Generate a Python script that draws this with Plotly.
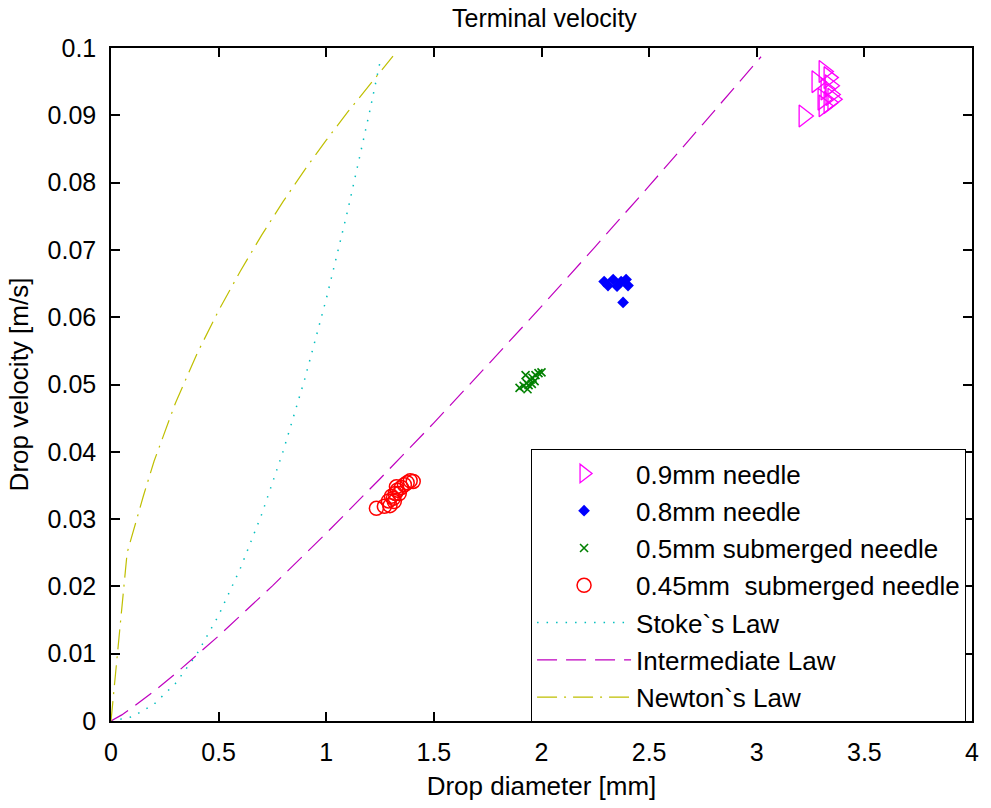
import plotly.graph_objects as go

# ---- measured drops ----
d_09 = [3.219, 3.279, 3.312, 3.335, 3.321, 3.344, 3.307, 3.335, 3.353, 3.312, 3.340]
v_09 = [0.0899, 0.0950, 0.0965, 0.0956, 0.0939, 0.0931, 0.0924, 0.0919, 0.0924, 0.0914, 0.0944]

d_08 = [2.291, 2.309, 2.333, 2.351, 2.370, 2.393, 2.402, 2.379]
v_08 = [0.0653, 0.0647, 0.0656, 0.0646, 0.0653, 0.0656, 0.0647, 0.0622]

d_05 = [1.898, 1.917, 1.931, 1.940, 1.949, 1.958, 1.968, 1.972, 1.986, 2.000, 1.926, 1.935, 1.955]
v_05 = [0.0495, 0.0498, 0.0502, 0.0499, 0.0507, 0.0510, 0.0505, 0.0514, 0.0517, 0.0518, 0.0514,
        0.0493, 0.0501]

d_045 = [1.233, 1.270, 1.289, 1.303, 1.312, 1.321, 1.330, 1.339, 1.349, 1.363, 1.376, 1.390, 1.404, 1.326,
         1.296, 1.316]
v_045 = [0.0316, 0.0319, 0.0327, 0.0334, 0.0331, 0.0338, 0.0343, 0.0338, 0.0347, 0.0351, 0.0354, 0.0357,
         0.0356, 0.0348, 0.0320, 0.0326]

# ---- settling laws ----
d_stokes = [0, 0.1, 0.2, 0.3, 0.4, 0.5, 0.6, 0.7, 0.8, 0.9, 1.0, 1.1, 1.2, 1.255]
v_stokes = [0, 0.00063, 0.0025, 0.0056, 0.0100, 0.0157, 0.0226, 0.0307, 0.0401, 0.0508,
            0.0627, 0.0759, 0.0903, 0.0987]

d_inter = [0, 0.05, 0.1, 0.2, 0.3, 0.5, 0.75, 1.0, 1.25, 1.5, 1.75, 2.0, 2.25, 2.5, 2.75, 3.0, 3.02]
v_inter = [0, 0.00091, 0.00201, 0.00443, 0.00705, 0.01264, 0.02008, 0.0279, 0.0360, 0.0443,
           0.0529, 0.0616, 0.0705, 0.0795, 0.0887, 0.0979, 0.0987]

d_newton = [0, 0.075, 0.15, 0.2, 0.3, 0.4, 0.5, 0.6, 0.7, 0.8, 0.9, 1.0, 1.1, 1.2, 1.3, 1.31]
v_newton = [0, 0.0250, 0.0334, 0.0386, 0.0473, 0.0546, 0.0610, 0.0668, 0.0722, 0.0772,
            0.0819, 0.0863, 0.0905, 0.0945, 0.0984, 0.0988]

x_ticks = [0, 0.5, 1, 1.5, 2, 2.5, 3, 3.5, 4]
x_ticktext = ["0", "0.5", "1", "1.5", "2", "2.5", "3", "3.5", "4"]
y_ticks = [0, 0.01, 0.02, 0.03, 0.04, 0.05, 0.06, 0.07, 0.08, 0.09, 0.1]
y_ticktext = ["0", "0.01", "0.02", "0.03", "0.04", "0.05", "0.06", "0.07", "0.08", "0.09", "0.1"]

FONT = "Arial, Liberation Sans, sans-serif"

fig = go.Figure()

fig.add_trace(go.Scatter(
    x=d_09, y=v_09, mode="markers", name="0.9mm needle", legendgroup="a",
    marker=dict(symbol="triangle-right-open", size=19, color="#FF00FF", line=dict(width=1.3)),
))
fig.add_trace(go.Scatter(
    x=d_08, y=v_08, mode="markers", name="0.8mm needle", legendgroup="b",
    marker=dict(symbol="diamond", size=9, color="#0000FF", line=dict(width=0)),
))
fig.add_trace(go.Scatter(
    x=d_05, y=v_05, mode="markers", name="0.5mm submerged needle", legendgroup="c",
    marker=dict(symbol="x-thin-open", size=8, color="#008000", line=dict(width=1.6, color="#008000")),
))
fig.add_trace(go.Scatter(
    x=d_045, y=v_045, mode="markers", name="0.45mm\u00a0 submerged needle", legendgroup="d",
    marker=dict(symbol="circle-open", size=14, color="#FF0000", line=dict(width=1.5)),
))
fig.add_trace(go.Scatter(
    x=d_stokes, y=v_stokes, mode="lines", name="Stoke`s Law", legendgroup="e",
    line=dict(color="#00BFBF", width=1.5, dash="1.5px,8px"),
))
fig.add_trace(go.Scatter(
    x=d_inter, y=v_inter, mode="lines", name="Intermediate Law", legendgroup="f",
    line=dict(color="#BF00BF", width=1.2, dash="20px,9px"),
))
fig.add_trace(go.Scatter(
    x=d_newton, y=v_newton, mode="lines", name="Newton`s Law", legendgroup="g",
    line=dict(color="#BFBF00", width=1.2, dash="20px,7px,2px,7px"),
))

fig.update_layout(
    width=991, height=808,
    margin=dict(l=111, r=14, t=48, b=77),
    paper_bgcolor="white", plot_bgcolor="white",
    font=dict(family=FONT, size=25, color="black"),
    title=dict(text="Terminal velocity", x=0.5494, xanchor="center",
               y=1 - 18 / 808, yanchor="middle", yref="container",
               font=dict(size=25, color="black")),
    legend=dict(
        x=0.9931, y=-0.0015, xanchor="right", yanchor="bottom",
        bgcolor="white", bordercolor="black", borderwidth=1,
        font=dict(size=26, color="black"),
        itemwidth=94, tracegroupgap=0.5,
    ),
    showlegend=True,
)

fig.update_xaxes(
    range=[0, 4], tickvals=x_ticks, ticktext=x_ticktext,
    ticks="inside", ticklen=9, tickwidth=1.5, tickcolor="black",
    showline=True, linecolor="black", linewidth=1.5, mirror="allticks",
    showgrid=False, zeroline=False, ticklabelstandoff=8,
    title=dict(text="Drop diameter [mm]", standoff=12, font=dict(size=26)),
)
fig.update_yaxes(
    range=[0, 0.1], tickvals=y_ticks, ticktext=y_ticktext,
    ticks="inside", ticklen=9, tickwidth=1.5, tickcolor="black",
    showline=True, linecolor="black", linewidth=1.5, mirror="allticks",
    showgrid=False, zeroline=False, ticklabelstandoff=8,
    title=dict(text="Drop velocity [m/s]", standoff=11, font=dict(size=26)),
)

fig.write_html("out.html")
